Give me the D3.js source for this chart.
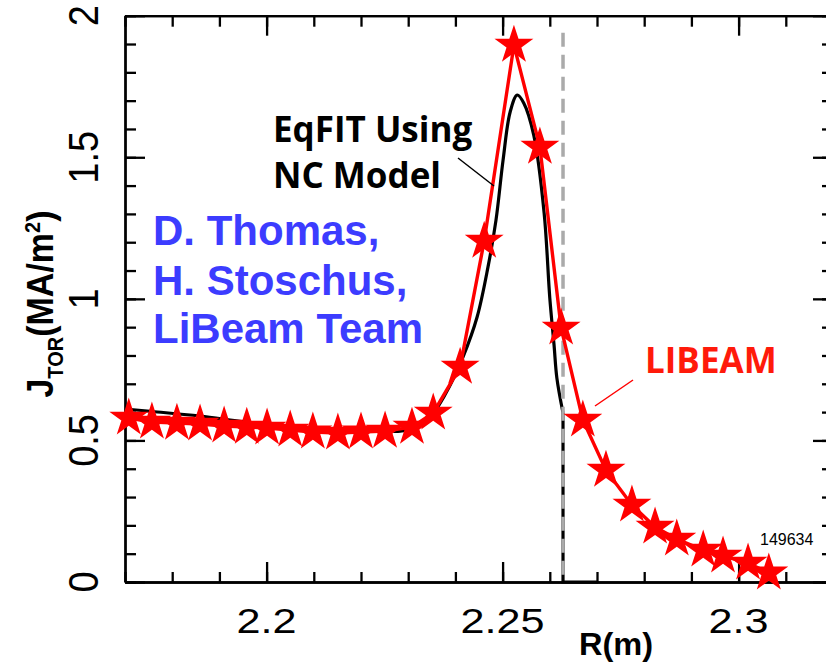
<!DOCTYPE html>
<html>
<head>
<meta charset="utf-8">
<script src="https://cdn.jsdelivr.net/npm/d3@7"></script>
<style>
  body { margin: 0; background: #fff; }
  svg { display: block; }
</style>
</head>
<body>
<svg id="chart" width="826" height="662"></svg>
<script>
// LIBEAM profile (stars)
var starR = [2.1708, 2.1757, 2.1810, 2.1859, 2.1910, 2.1958, 2.2001, 2.2050, 2.2098, 2.2151,
             2.2200, 2.2251, 2.2308, 2.2353, 2.2410, 2.2461, 2.2524, 2.2579, 2.2624, 2.2670,
             2.2719, 2.2774, 2.2823, 2.2869, 2.2925, 2.2967, 2.3020, 2.3064];
var starJ = [0.579, 0.565, 0.561, 0.558, 0.551, 0.547, 0.544, 0.537, 0.530, 0.526,
             0.530, 0.533, 0.547, 0.597, 0.759, 1.204, 1.896, 1.536, 0.897, 0.572,
             0.395, 0.272, 0.194, 0.152, 0.113, 0.092, 0.067, 0.032];

// EqFIT NC model (smooth black curve)
var efitR = [2.1700, 2.1753, 2.1859, 2.1958, 2.2098, 2.2198, 2.2283, 2.2314, 2.2353, 2.2389,
             2.2416, 2.2446, 2.2469, 2.2486, 2.2501, 2.2516, 2.2531, 2.2545, 2.2566, 2.2588,
             2.2600, 2.2609, 2.2615, 2.2628];
var efitJ = [0.611, 0.603, 0.586, 0.565, 0.542, 0.534, 0.533, 0.544, 0.597, 0.696,
             0.794, 0.936, 1.112, 1.278, 1.490, 1.660, 1.720, 1.691, 1.578, 1.303,
             1.003, 0.837, 0.720, 0.597];
// beyond the separatrix the model current is zero
var efitTailR = [2.2628, 2.2628, 2.2702];
var efitTailJ = [0.597, 0, 0];

var sepR = 2.2628;     // dashed separatrix line
var sepTop = 1.94;

var xMajor = [2.2, 2.25, 2.3];
var xTickLabels = ["2.2", "2.25", "2.3"];
var yMajor = [0, 0.5, 1, 1.5, 2];
var yTickLabels = ["0", "0.5", "1", "1.5", "2"];

var svg = d3.select("#chart");

var x = d3.scaleLinear().domain([2.17, 2.32]).range([125, 833]);
var y = d3.scaleLinear().domain([0, 2]).range([582, 15.7]);

var xMinor = d3.range(217, 233).map(function(d){ return d / 100; });
var yMinor = d3.range(0, 21).map(function(d){ return d / 10; });

// axes, ticks pointing inward on all four sides
function drawAxis(axisFn, vals, size, tr){
	svg.append("g")
		.attr("class", "axis")
		.attr("transform", tr)
		.call(axisFn.tickValues(vals).tickSize(size).tickSizeOuter(0).tickFormat(""));
}
drawAxis(d3.axisBottom(x), xMinor, -10, "translate(0," + y(0) + ")");
drawAxis(d3.axisBottom(x), xMajor, -20, "translate(0," + y(0) + ")");
drawAxis(d3.axisTop(x), xMinor, -11, "translate(0," + y(2) + ")");
drawAxis(d3.axisTop(x), xMajor, -20, "translate(0," + y(2) + ")");
drawAxis(d3.axisLeft(y), yMinor, -11, "translate(" + x(2.17) + ",0)");
drawAxis(d3.axisLeft(y), yMajor, -20, "translate(" + x(2.17) + ",0)");
drawAxis(d3.axisRight(y), yMinor, -11, "translate(" + x(2.32) + ",0)");
drawAxis(d3.axisRight(y), yMajor, -20, "translate(" + x(2.32) + ",0)");
svg.selectAll(".axis path, .axis line").attr("stroke", "#000").attr("stroke-width", 2.3);

// tick labels
xMajor.forEach(function(v, i){
	svg.append("text")
		.attr("transform", "translate(" + x(v) + ",633) scale(1.2,1)")
		.attr("text-anchor", "middle")
		.style("font-family", "Liberation Sans, Arial, sans-serif")
		.style("font-size", "36px")
		.text(xTickLabels[i]);
});
yMajor.forEach(function(v, i){
	svg.append("text")
		.attr("transform", "translate(98," + y(v) + ") scale(1.1,1) rotate(-90)")
		.attr("text-anchor", "middle")
		.style("font-family", "Liberation Sans, Arial, sans-serif")
		.style("font-size", "38px")
		.text(yTickLabels[i]);
});

// axis titles
svg.append("text")
	.attr("transform", "translate(616,655) scale(1.05,1)")
	.attr("text-anchor", "middle")
	.style("font-family", "Liberation Sans, Arial, sans-serif")
	.style("font-weight", "bold")
	.style("font-size", "31px")
	.text("R(m)");

var yTitle = svg.append("text")
	.attr("transform", "translate(53,304) scale(1.1,1) rotate(-90)")
	.attr("text-anchor", "middle")
	.style("font-family", "Liberation Sans, Arial, sans-serif")
	.style("font-weight", "bold")
	.style("font-size", "34px");
yTitle.append("tspan").text("J");
yTitle.append("tspan").attr("dy", 9).style("font-size", "20px").text("TOR");
yTitle.append("tspan").attr("dy", -9).text("(MA/m");
yTitle.append("tspan").attr("dy", -12).style("font-size", "20px").text("2");
yTitle.append("tspan").attr("dy", 12).text(")");

// EqFIT curve
var efitPts = efitR.map(function(r, i){ return [r, efitJ[i]]; });
var tailPts = efitTailR.map(function(r, i){ return [r, efitTailJ[i]]; });
var smooth = d3.line()
	.x(function(d){ return x(d[0]); })
	.y(function(d){ return y(d[1]); })
	.curve(d3.curveCatmullRom.alpha(0.5));
var straight = d3.line()
	.x(function(d){ return x(d[0]); })
	.y(function(d){ return y(d[1]); });

svg.append("path").attr("d", smooth(efitPts))
	.attr("fill", "none").attr("stroke", "#000").attr("stroke-width", 3.2);
svg.append("path").attr("d", straight(tailPts))
	.attr("fill", "none").attr("stroke", "#000").attr("stroke-width", 3.2);

// separatrix, dashed gray
svg.append("line")
	.attr("x1", x(sepR)).attr("x2", x(sepR))
	.attr("y1", y(sepTop)).attr("y2", y(0))
	.attr("stroke", "#aaaaaa").attr("stroke-width", 3.5)
	.attr("stroke-dasharray", "14,8");

// LIBEAM line + stars
var starPts = starR.map(function(r, i){ return [r, starJ[i]]; });
svg.append("path").attr("d", straight(starPts))
	.attr("fill", "none").attr("stroke", "#ff0000").attr("stroke-width", 3.4);
svg.selectAll(".star")
	.data(starPts)
	.enter()
	.append("path")
	.attr("class", "star")
	.attr("d", d3.symbol().type(d3.symbolStar).size(470))
	.attr("transform", function(d){ return "translate(" + x(d[0]) + "," + y(d[1]) + ")"; })
	.attr("fill", "#ff0000");

// annotations
svg.append("line").attr("x1", 458).attr("y1", 158).attr("x2", 494).attr("y2", 186)
	.attr("stroke", "#000").attr("stroke-width", 1.5);
svg.append("line").attr("x1", 633).attr("y1", 380).attr("x2", 595).attr("y2", 406)
	.attr("stroke", "#ff0000").attr("stroke-width", 1.5);

var noteFont = "Open Sans, Noto Sans, sans-serif";
[["EqFIT Using", 142], ["NC Model", 188]].forEach(function(t){
	svg.append("text").attr("x", 273).attr("y", t[1])
		.style("font-family", noteFont).style("font-weight", "bold")
		.style("font-size", "35px").attr("fill", "#000")
		.text(t[0]);
});
svg.append("text").attr("x", 645).attr("y", 373)
	.style("font-family", noteFont).style("font-weight", "bold")
	.style("font-size", "35px").attr("fill", "#ff1a0a")
	.text("LIBEAM");

[["D. Thomas,", 245], ["H. Stoschus,", 295], ["LiBeam Team", 343]].forEach(function(t){
	svg.append("text").attr("x", 153).attr("y", t[1])
		.style("font-family", "Liberation Sans, Arial, sans-serif").style("font-weight", "bold")
		.style("font-size", "42px").attr("fill", "#3c3cff")
		.text(t[0]);
});

svg.append("text").attr("x", 760).attr("y", 545)
	.style("font-family", "Liberation Sans, Arial, sans-serif")
	.style("font-size", "16px")
	.text("149634");
</script>
</body>
</html>
